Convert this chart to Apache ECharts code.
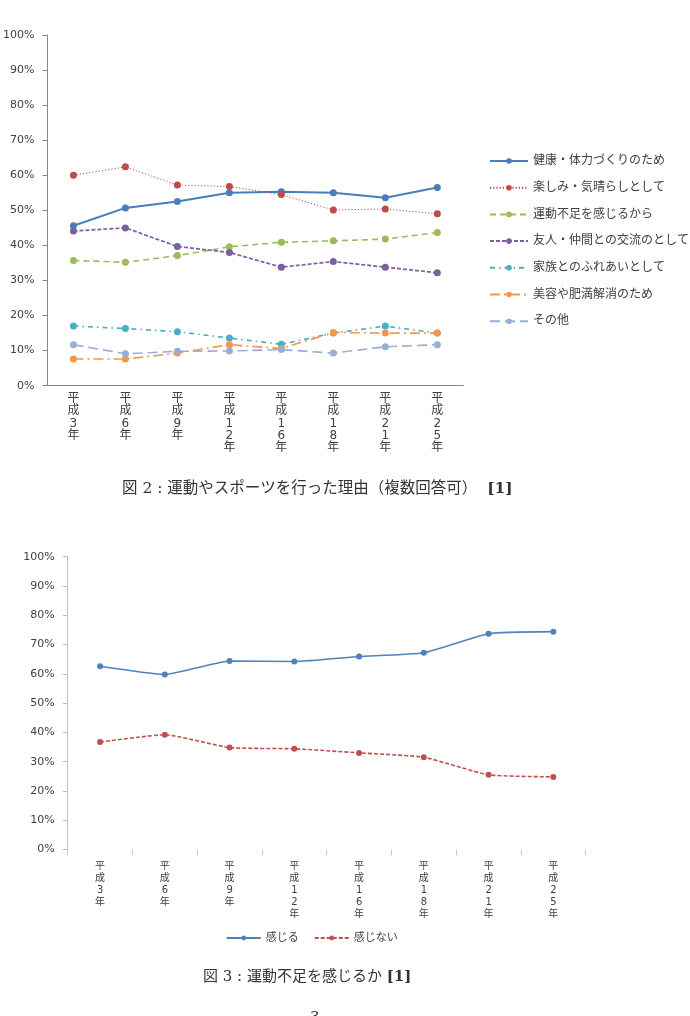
<!DOCTYPE html>
<html>
<head>
<meta charset="utf-8">
<title>運動やスポーツ</title>
<script src="https://cdn.jsdelivr.net/npm/echarts@6/dist/echarts.min.js"></script>
<style>
  html, body { margin: 0; padding: 0; background: #fff; }
  #chart { width: 690px; height: 1016px; }
</style>
</head>
<body>
<div id="chart"></div>
<script>
// 横軸（両グラフ共通）
const years = ['平成3年', '平成6年', '平成9年', '平成12年', '平成16年', '平成18年', '平成21年', '平成25年'];
const yTicks = [0, 100, 10];

// 図2：運動やスポーツを行った理由
const health = [45.6, 50.7, 52.5, 55.0, 55.3, 55.0, 53.6, 56.5];
const fun = [60.0, 62.4, 57.2, 56.8, 54.5, 50.1, 50.4, 49.0];
const lackExercise = [35.7, 35.2, 37.1, 39.6, 40.9, 41.3, 41.8, 43.7];
const friends = [44.1, 45.0, 39.7, 38.0, 33.8, 35.4, 33.8, 32.2];
const family = [17.0, 16.3, 15.4, 13.6, 11.8, 15.0, 17.0, 15.0];
const beauty = [7.6, 7.6, 9.3, 11.7, 10.6, 15.2, 15.0, 15.0];
const other = [11.7, 9.1, 9.8, 9.9, 10.3, 9.3, 11.1, 11.7];

// 図3：運動不足を感じるか
const feel = [62.6, 59.8, 64.4, 64.2, 65.9, 67.2, 73.7, 74.4];
const notFeel = [36.7, 39.2, 34.8, 34.4, 33.0, 31.5, 25.5, 24.8];

const gothic = '"DejaVu Sans", "Noto Sans CJK JP", sans-serif';
const mincho = '"DejaVu Serif", "Noto Sans CJK JP", serif';
const vertical = (v) => v.split('').join('\n');

function line1 (name, data, color, type, width) {
  return {
    name,
    type: 'line',
    xAxisIndex: 0,
    yAxisIndex: 0,
    data,
    symbol: 'circle',
    symbolSize: 7,
    itemStyle: { color },
    lineStyle: { color, type, width },
    emphasis: { disabled: true }
  };
}

function line2 (name, data, color, type) {
  return {
    name,
    type: 'line',
    xAxisIndex: 1,
    yAxisIndex: 1,
    data,
    smooth: 0.15,
    symbol: 'circle',
    symbolSize: 6,
    itemStyle: { color },
    lineStyle: { color, type, width: 1.6 },
    emphasis: { disabled: true }
  };
}

const option = {
  animation: false,
  textStyle: { fontFamily: gothic },
  grid: [
    { left: 47.3, right: 226.7, top: 35, bottom: 630.3 },
    { left: 67.7, right: 104.3, top: 556.7, bottom: 166.5 }
  ],
  xAxis: [
    {
      gridIndex: 0,
      type: 'category',
      data: years,
      axisLine: { lineStyle: { color: '#868686' } },
      axisTick: { length: 6, lineStyle: { color: '#868686' } },
      axisLabel: {
        interval: 0,
        formatter: vertical,
        verticalAlign: 'top',
        margin: 7,
        fontSize: 12,
        lineHeight: 12.3,
        color: '#404040'
      }
    },
    {
      gridIndex: 1,
      type: 'category',
      data: years,
      axisLine: { show: false },
      axisTick: { show: true, length: 6, lineStyle: { color: '#c8c8c8' } },
      axisLabel: {
        interval: 0,
        formatter: vertical,
        verticalAlign: 'top',
        margin: 11,
        fontSize: 10,
        lineHeight: 12,
        color: '#404040'
      }
    }
  ],
  yAxis: [
    {
      gridIndex: 0,
      type: 'value',
      min: yTicks[0],
      max: yTicks[1],
      interval: yTicks[2],
      axisLine: { show: true, lineStyle: { color: '#868686' } },
      axisTick: { show: true, length: 5, lineStyle: { color: '#868686' } },
      splitLine: { show: false },
      axisLabel: { formatter: '{value}%', fontSize: 11, margin: 13, color: '#404040' }
    },
    {
      gridIndex: 1,
      type: 'value',
      min: yTicks[0],
      max: yTicks[1],
      interval: yTicks[2],
      axisLine: { show: true, lineStyle: { color: '#bfbfbf' } },
      axisTick: { show: true, length: 5, lineStyle: { color: '#bfbfbf' } },
      splitLine: { show: false },
      axisLabel: { formatter: '{value}%', fontSize: 11, margin: 13, color: '#404040' }
    }
  ],
  legend: [
    {
      orient: 'vertical',
      left: 489,
      top: 154,
      padding: 0,
      itemWidth: 38,
      itemHeight: 7,
      itemGap: 12.7,
      selectedMode: false,
      textStyle: { fontSize: 12, lineHeight: 14, color: '#404040' },
      data: ['健康・体力づくりのため', '楽しみ・気晴らしとして', '運動不足を感じるから',
        '友人・仲間との交流のとして', '家族とのふれあいとして', '美容や肥満解消のため', 'その他']
    },
    {
      orient: 'horizontal',
      left: 225.7,
      top: 931,
      padding: 0,
      itemWidth: 34,
      itemHeight: 6,
      itemGap: 15,
      selectedMode: false,
      textStyle: { fontSize: 11, lineHeight: 14, color: '#404040' },
      data: ['感じる', '感じない']
    }
  ],
  series: [
    line1('健康・体力づくりのため', health, '#4A7EBB', 'solid', 2),
    line1('楽しみ・気晴らしとして', fun, '#BE4B48', [1.2, 2], 1),
    line1('運動不足を感じるから', lackExercise, '#9BBB59', [6, 4], 1.6),
    line1('友人・仲間との交流のとして', friends, '#7D5FA0', [4, 2], 1.7),
    line1('家族とのふれあいとして', family, '#4BACC6', [5, 4, 1.5, 4], 1.6),
    line1('美容や肥満解消のため', beauty, '#F79646', [10, 4, 2, 4], 1.6),
    line1('その他', other, '#98AED8', [10, 5], 1.6),
    line2('感じる', feel, '#4F81BD', 'solid'),
    line2('感じない', notFeel, '#C0504D', [4, 2])
  ],
  graphic: [
    {
      type: 'text',
      left: 122,
      top: 481,
      style: {
        text: '図 2 : 運動やスポーツを行った理由（複数回答可）  {b|[1]}',
        font: '15.5px ' + mincho,
        fill: '#333',
        rich: { b: { fontWeight: 'bold', fontSize: 15.5, fontFamily: mincho, fill: '#333' } }
      }
    },
    {
      type: 'text',
      left: 203,
      top: 970,
      style: {
        text: '図 3 : 運動不足を感じるか {b|[1]}',
        font: '15px ' + mincho,
        fill: '#333',
        rich: { b: { fontWeight: 'bold', fontSize: 15, fontFamily: mincho, fill: '#333' } }
      }
    },
    {
      type: 'text',
      left: 310,
      top: 1011,
      style: { text: '3', font: '15px ' + mincho, fill: '#333' }
    }
  ]
};

const myChart = echarts.init(document.getElementById('chart'));
myChart.setOption(option);
</script>
</body>
</html>
